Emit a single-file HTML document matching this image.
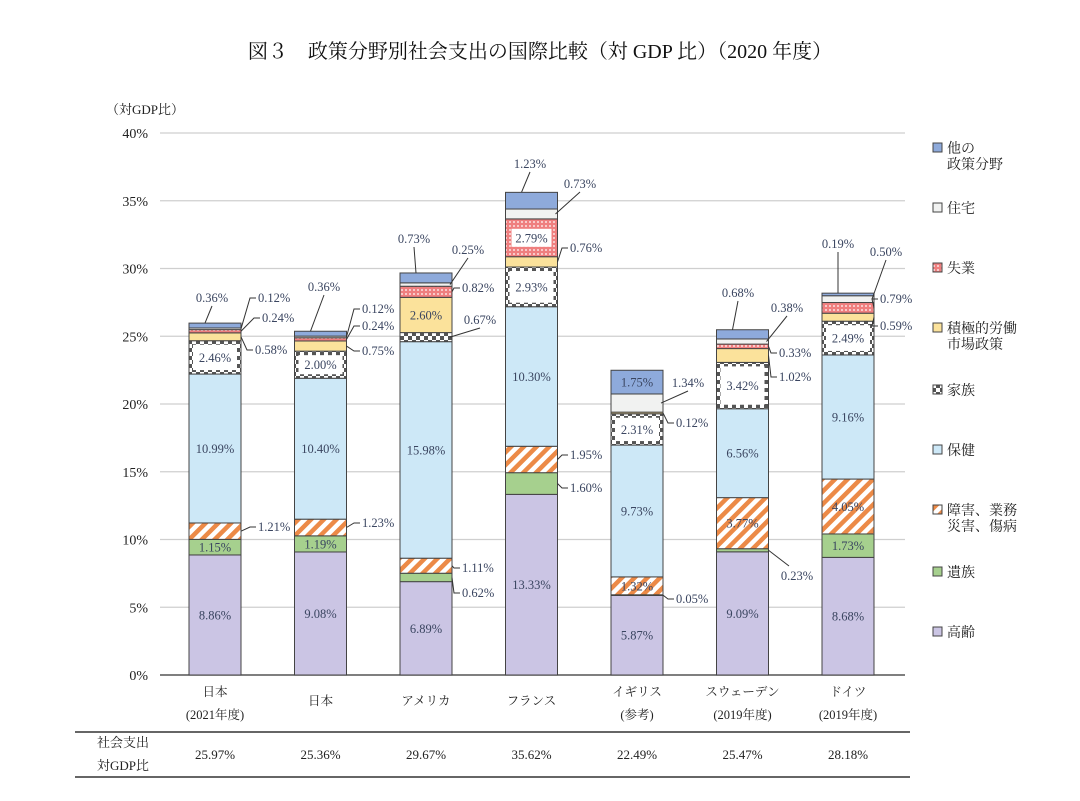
<!DOCTYPE html>
<html><head><meta charset="utf-8"><style>
body{margin:0;background:#fff;}
svg{display:block;font-family:"Liberation Serif","Noto Serif CJK JP","Noto Sans CJK JP",serif;}
</style></head><body>
<svg id="c" width="1080" height="801" viewBox="0 0 1080 801">
<defs>
<pattern id="stripe" patternUnits="userSpaceOnUse" width="9" height="9" patternTransform="rotate(45)">
<rect width="9" height="9" fill="#fff"/><rect width="4.5" height="9" fill="#ec8a47"/></pattern>
<pattern id="dots" patternUnits="userSpaceOnUse" width="4" height="4">
<rect width="4" height="4" fill="#ef7f7f"/><circle cx="2" cy="2" r="0.9" fill="#fff"/></pattern>
<pattern id="check" patternUnits="userSpaceOnUse" width="8" height="8">
<rect width="8" height="8" fill="#fff"/><rect width="4" height="4" fill="#555"/><rect x="4" y="4" width="4" height="4" fill="#555"/></pattern>
</defs>
<text x="540" y="58" text-anchor="middle" font-size="20" fill="#111">図３　政策分野別社会支出の国際比較（対 GDP 比）（2020 年度）</text>
<text x="106" y="114" font-size="13" fill="#222">（対GDP比）</text>
<g id="grid"></g><g id="bars"></g><g id="labels"></g><g id="legend"></g><g id="table"></g>
</svg>
<script>
const countries=["日本|(2021年度)","日本","アメリカ","フランス","イギリス|(参考)","スウェーデン|(2019年度)","ドイツ|(2019年度)"];
const totals=["25.97%","25.36%","29.67%","35.62%","22.49%","25.47%","28.18%"];
const catNames=["高齢","遺族","障害、業務|災害、傷病","保健","家族","積極的労働|市場政策","失業","住宅","他の|政策分野"];
const elderly=[8.86,9.08,6.89,13.33,5.87,9.09,8.68];
const survivors=[1.15,1.19,0.62,1.60,0.05,0.23,1.73];
const disability=[1.21,1.23,1.11,1.95,1.32,3.77,4.05];
const health=[10.99,10.40,15.98,10.30,9.73,6.56,9.16];
const family=[2.46,2.00,0.67,2.93,2.31,3.42,2.49];
const almp=[0.58,0.75,2.60,0.76,0.12,1.02,0.59];
const unemployment=[0.24,0.24,0.82,2.79,0,0.33,0.79];
const housing=[0.12,0.12,0.25,0.73,1.34,0.38,0.50];
const other=[0.36,0.36,0.73,1.23,1.75,0.68,0.19];
const yTicks=[0,5,10,15,20,25,30,35,40];
const series=[elderly,survivors,disability,health,family,almp,unemployment,housing,other];
const fills=["#cbc5e4","#a6d08e","url(#stripe)","#cde8f7","url(#check)","#fbe29b","url(#dots)","#f1f2f1","#8eaadb"];
const keys=["elderly","survivors","disability","health","family","almp","unemployment","housing","other"];
const outside=[[0,8,212,302,"c"],[0,7,258,302,"r"],[0,6,262,322,"r"],[0,5,255,354,"r"],[0,2,258,531,"r"],
[1,8,324,291,"c"],[1,7,362,313,"r"],[1,6,362,330,"r"],[1,5,362,355,"r"],[1,2,362,527,"r"],
[2,8,414,243,"c"],[2,7,468,254,"c"],[2,6,462,292,"r"],[2,4,480,324,"c"],[2,2,462,572,"r"],[2,1,462,597,"r"],
[3,8,530,168,"c"],[3,7,580,188,"c"],[3,5,570,252,"r"],[3,2,570,459,"r"],[3,1,570,492,"r"],
[4,7,688,387,"c"],[4,5,676,427,"r"],[4,1,676,603,"r"],
[5,8,738,297,"c"],[5,7,787,312,"c"],[5,6,779,357,"r"],[5,5,779,381,"r"],[5,1,797,580,"c"],
[6,8,838,248,"c"],[6,7,886,256,"c"],[6,6,880,303,"r"],[6,5,880,330,"r"]];
const y0=675, pxPer=13.55, bw=52;
const X=i=>189+i*105.5+bw/2;
const Y=v=>y0-v*pxPer;
const NS="http://www.w3.org/2000/svg";
function mk(t,a,p){const e=document.createElementNS(NS,t);for(const k in a)e.setAttribute(k,a[k]);p.appendChild(e);return e;}
const grid=document.getElementById('grid'),bars=document.getElementById('bars'),labels=document.getElementById('labels');
yTicks.forEach(t=>{
 const l=mk('line',{x1:160,x2:905,y1:Y(t),y2:Y(t),stroke:t?"#cfcfcf":"#555","stroke-width":t?1.2:1.5},grid);
 
 
 const tx=mk('text',{x:148,y:Y(t)+5,"text-anchor":"end","font-size":14,fill:"#222"},grid);tx.textContent=t+"%";
 
 
});
const isOut={};outside.forEach(o=>isOut[o[0]+"-"+o[1]]=1);
const segs=[];
countries.forEach((c,i)=>{
 let acc=0;const cx=X(i),x=cx-bw/2;segs[i]=[];
 series.forEach((s,k)=>{
  const v=s[i];const yt=Y(acc+v),yb=Y(acc);segs[i][k]=[yt,yb];acc+=v;
  if(v<=0)return;
  const r=mk('rect',{x:x,y:yt,width:bw,height:yb-yt,fill:fills[k],stroke:"#444","stroke-width":1},bars);
  
  
  if(k==4&&yb-yt>12){const w=mk('rect',{x:x+4,y:yt+4,width:bw-8,height:yb-yt-8,fill:"#fff"},bars);
   
   }
  if(!isOut[i+"-"+k]){
   if(k==6&&yb-yt>20){const w=mk('rect',{x:x+6,y:(yt+yb)/2-9,width:bw-12,height:18,fill:"#fff"},bars);
    
    }
   const t=mk('text',{x:cx,y:(yt+yb)/2+4.5,"text-anchor":"middle","font-size":12.5,fill:"#3a4560"},labels);
   t.textContent=v.toFixed(2)+"%";
   
   
  }
 });
 const parts=c.split("|");
 parts.forEach((p,j)=>{const t=mk('text',{x:cx,y:(parts.length==1?705:696+j*23),"text-anchor":"middle","font-size":12.5,fill:"#222"},labels);t.textContent=p;
  
  });
});
outside.forEach(([i,k,tx,ty,m])=>{
 const v=series[k][i];const [yt,yb]=segs[i][k];const ym=(yt+yb)/2;const cx=X(i),xr=cx+bw/2;
 let pts;
 if(m=="c"){
  if(ty>ym+10){pts=[[xr,ym],[tx-8,ty-14]];}
  else{const ax=(k==8)?cx-10:xr-2;const ay=(k==8)?yt:ym;pts=[[tx,ty+4],[ax,ay]];}
 }
 else pts=[[xr,ym],[tx-8,ty-4],[tx-2,ty-4]];
 const pl=mk('polyline',{points:pts.map(p=>p.join(",")).join(" "),fill:"none",stroke:"#333","stroke-width":1},labels);
 
 
 const t=mk('text',{x:tx,y:ty,"text-anchor":m=="c"?"middle":"start","font-size":12.5,fill:"#3a4560"},labels);
 t.textContent=v.toFixed(2)+"%";
 
 
});
const lg=document.getElementById('legend');
const ly=[637,577,515,455,395,333,273,213,153];
for(let k=8;k>=0;k--){
 const r=mk('rect',{x:933,y:ly[k]-10,width:9,height:9,fill:fills[k],stroke:"#444","stroke-width":1},lg);
 
 
 catNames[k].split("|").forEach((p,j)=>{const t=mk('text',{x:947,y:ly[k]+j*16,"font-size":14,fill:"#222"},lg);t.textContent=p;
  
  });
}
const tb=document.getElementById('table');
[[75,732],[75,777]].forEach(([x,y])=>{const l=mk('line',{x1:x,x2:910,y1:y,y2:y,stroke:"#333","stroke-width":1.5},tb);
 
 });
[["社会支出",747],["対GDP比",770]].forEach(([s,y])=>{const t=mk('text',{x:123,y:y,"text-anchor":"middle","font-size":13,fill:"#222"},tb);t.textContent=s;
 
 });
totals.forEach((s,i)=>{const t=mk('text',{x:X(i),y:759,"text-anchor":"middle","font-size":13,fill:"#222"},tb);t.textContent=s;
 
 });
</script>
</body></html>
